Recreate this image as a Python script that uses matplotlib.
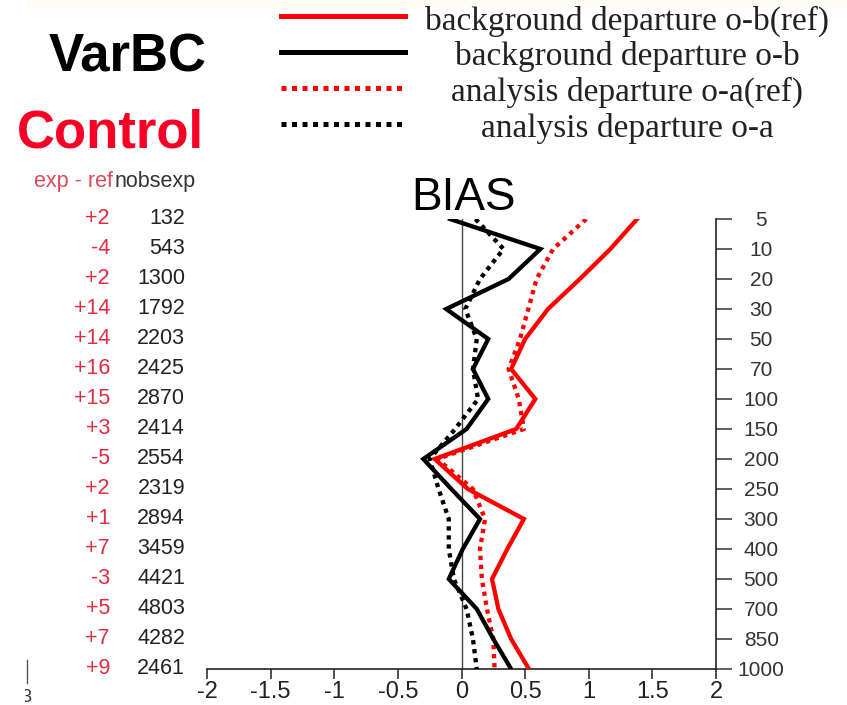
import matplotlib
matplotlib.use("Agg")
import matplotlib.pyplot as plt
from matplotlib.lines import Line2D
from matplotlib.patches import Rectangle
from matplotlib.transforms import blended_transform_factory

# Pressure levels (hPa), top to bottom
levels = [5, 10, 20, 30, 50, 70, 100, 150, 200, 250, 300, 400, 500, 700, 850, 1000]
# Number of observations in the experiment and difference exp - ref
nobs_exp = [132, 543, 1300, 1792, 2203, 2425, 2870, 2414, 2554, 2319, 2894, 3459, 4421, 4803, 4282, 2461]
nobs_diff = ["+2", "-4", "+2", "+14", "+14", "+16", "+15", "+3", "-5", "+2", "+1", "+7", "-3", "+5", "+7", "+9"]

# Mean departures (bias) per level
ob_ref = [1.38, 1.17, 0.93, 0.68, 0.50, 0.39, 0.58, 0.43, -0.21, 0.05, 0.49, 0.36, 0.24, 0.29, 0.39, 0.53]
ob_exp = [-0.09, 0.62, 0.37, -0.12, 0.21, 0.09, 0.21, 0.04, -0.30, -0.08, 0.145, 0.01, -0.10, 0.12, 0.25, 0.39]
oa_ref = [0.98, 0.72, 0.59, 0.525, 0.46, 0.37, 0.45, 0.49, -0.19, 0.09, 0.185, 0.145, 0.16, 0.20, 0.25, 0.26]
oa_exp = [0.11, 0.33, 0.145, 0.03, 0.12, 0.09, 0.13, -0.05, -0.25, -0.18, -0.10, -0.10, -0.06, 0.04, 0.09, 0.12]

series_labels = [
    "background departure o-b(ref)",
    "background departure o-b",
    "analysis departure o-a(ref)",
    "analysis departure o-a",
]
xticks = [-2, -1.5, -1, -0.5, 0, 0.5, 1, 1.5, 2]
xtick_labels = ["-2", "-1.5", "-1", "-0.5", "0", "0.5", "1", "1.5", "2"]

W, H = 847, 705
RED = "#ff0000"
TITLE_RED = "#f80026"
NUM_RED = "#e62a40"
SANS = "Liberation Sans"
SERIF = "Liberation Serif"


def fx(px):
    return px / W


def fy(py):
    return 1 - py / H


fig = plt.figure(figsize=(W / 100, H / 100), dpi=100)
fig.patch.set_facecolor("white")

ax = fig.add_axes([fx(207), fy(669), fx(716) - fx(207), fy(219) - fy(669)])
ax.set_facecolor("none")

ypos = list(range(len(levels)))
dotted = (0, (1, 1.1))

styles = [
    (ob_ref, RED, "-"),
    (oa_ref, RED, dotted),
    (ob_exp, "black", "-"),
    (oa_exp, "black", dotted),
]
for vals, col, ls in styles:
    ax.plot(vals, ypos, color=col, lw=3.1, linestyle=ls,
            dash_capstyle="butt", solid_joinstyle="miter", zorder=3)

ax.axvline(0, color="#444444", lw=1.0, zorder=2)

ax.set_xlim(-2, 2)
ax.set_ylim(len(levels) - 1, 0)

for side in ("left", "top"):
    ax.spines[side].set_visible(False)
for side in ("right", "bottom"):
    ax.spines[side].set_linewidth(1.2)
    ax.spines[side].set_color("#222222")

ax.set_xticks(xticks)
ax.set_xticklabels(xtick_labels, fontfamily=SANS)
ax.tick_params(axis="x", direction="out", length=7, width=1.1, pad=2,
               labelsize=17, colors="#222222")

ax.yaxis.tick_right()
ax.set_yticks(ypos)
ax.set_yticklabels([str(v) for v in levels], fontfamily=SANS)
ax.tick_params(axis="y", direction="out", length=11.5, width=1.1, pad=21,
               labelsize=15, colors="#333333")
for t in ax.get_yticklabels():
    t.set_horizontalalignment("center")

# Observation counts alongside the profile
trans = blended_transform_factory(fig.transFigure, ax.transData)
for i, (d, n) in enumerate(zip(nobs_diff, nobs_exp)):
    ax.text(fx(110), i, d, transform=trans, ha="right", va="center",
            color=NUM_RED, fontsize=15.5, fontfamily=SANS, clip_on=False)
    ax.text(fx(185), i, str(n), transform=trans, ha="right", va="center",
            color="#222222", fontsize=15.5, fontfamily=SANS, clip_on=False)

fig.text(fx(113), fy(187), "exp - ref", ha="right", va="baseline",
         color="#e0485c", fontsize=15.5, fontfamily=SANS)
fig.text(fx(115), fy(187), "nobsexp", ha="left", va="baseline",
         color="#333333", fontsize=15.5, fontfamily=SANS)

fig.text(fx(463), fy(210), "BIAS", ha="center", va="baseline",
         fontsize=33, fontfamily=SANS, color="black")

fig.text(fx(128), fy(72), "VarBC", ha="center", va="baseline",
         fontsize=38, fontweight="bold", fontfamily=SANS, color="black")
fig.text(fx(110), fy(147), "Control", ha="center", va="baseline",
         fontsize=38, fontweight="bold", fontfamily=SANS, color=TITLE_RED)

# Legend drawn as a block of sample lines with centred captions
legend_rows = [(16, 30), (52, 65), (88, 101), (124, 137)]
legend_styles = [(RED, "-"), ("black", "-"), (RED, dotted), ("black", dotted)]
for label, (yl, yb), (col, ls) in zip(series_labels, legend_rows, legend_styles):
    fig.add_artist(Line2D([fx(281), fx(405)], [fy(yl), fy(yl)], color=col,
                          lw=3.6, linestyle=ls, dash_capstyle="butt"))
    fig.text(fx(627), fy(yb), label, ha="center", va="baseline",
             fontsize=24, fontfamily=SERIF, color="#222222")

# Pale strip along the top edge
fig.add_artist(Rectangle((fx(27), fy(8)), 1, 8 / H, transform=fig.transFigure,
                         facecolor="#fdfdf2", edgecolor="none", zorder=0))

# Page-edge remnants at lower left
fig.add_artist(Line2D([fx(27), fx(27)], [fy(660), fy(683)], color="#555555", lw=1.0))
fig.text(fx(31), fy(702), "3", ha="right", va="baseline", fontsize=13,
         fontfamily=SANS, color="#333333")
fig.add_artist(Rectangle((0, 0), fx(25), fy(684), transform=fig.transFigure,
                         facecolor="white", edgecolor="none", zorder=5))

fig.savefig("out.png", dpi=100)
